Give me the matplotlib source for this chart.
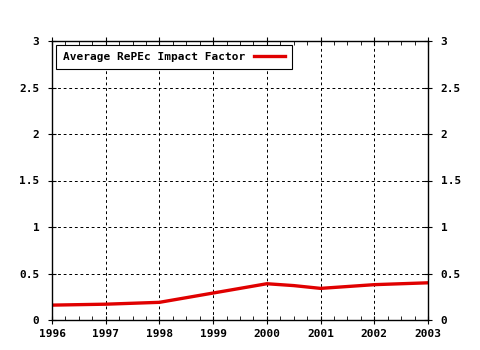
import numpy as np
import matplotlib.pyplot as plt
from matplotlib.ticker import MultipleLocator

years = [1996, 1996.5, 1997, 1997.5, 1998, 1998.5, 1999, 1999.5,
         2000, 2000.5, 2001, 2001.5, 2002, 2002.5, 2003]
impact = [0.16, 0.165, 0.17, 0.18, 0.19, 0.24, 0.29, 0.34,
          0.39, 0.37, 0.34, 0.36, 0.38, 0.39, 0.40]
yticks = [0, 0.5, 1, 1.5, 2, 2.5, 3]
ytick_labels = ['0', '0.5', '1', '1.5', '2', '2.5', '3']
xticks = list(range(1996, 2004))

plt.rcParams['font.family'] = 'DejaVu Sans Mono'
plt.rcParams['font.weight'] = 'bold'
plt.rcParams['font.size'] = 8

fig = plt.figure(figsize=(4.8, 3.5), dpi=100)
ax = fig.add_axes([52 / 480, 30 / 350, 376 / 480, 279 / 350])

ax.plot(years, impact, color='#e00000', linewidth=2.4,
        label='Average RePEc Impact Factor')

ax.set_xlim(1996, 2003)
ax.set_ylim(0, 3)
ax.set_xticks(xticks)
ax.set_xticklabels([str(x) for x in xticks])
ax.set_yticks(yticks)
ax.set_yticklabels(ytick_labels)
ax.xaxis.set_minor_locator(MultipleLocator(0.25))
ax.tick_params(which='major', direction='inout', length=6, width=0.8,
               top=True, right=True, labelright=True, colors='black')
ax.tick_params(axis='y', which='major', pad=6)
ax.tick_params(which='minor', direction='in', length=3, width=0.6,
               top=True, right=True)
ax.grid(True, which='major', color='black', linestyle=(0, (2.8, 2.8)), linewidth=0.72)

for s in ax.spines.values():
    s.set_linewidth(1.0)

leg = ax.legend(loc='upper left', markerfirst=False, handlelength=2.8,
                fancybox=False, framealpha=1, edgecolor='black',
                borderpad=0.6, borderaxespad=0.4)
leg.get_frame().set_linewidth(0.8)

fig.savefig('out.png', dpi=100)
